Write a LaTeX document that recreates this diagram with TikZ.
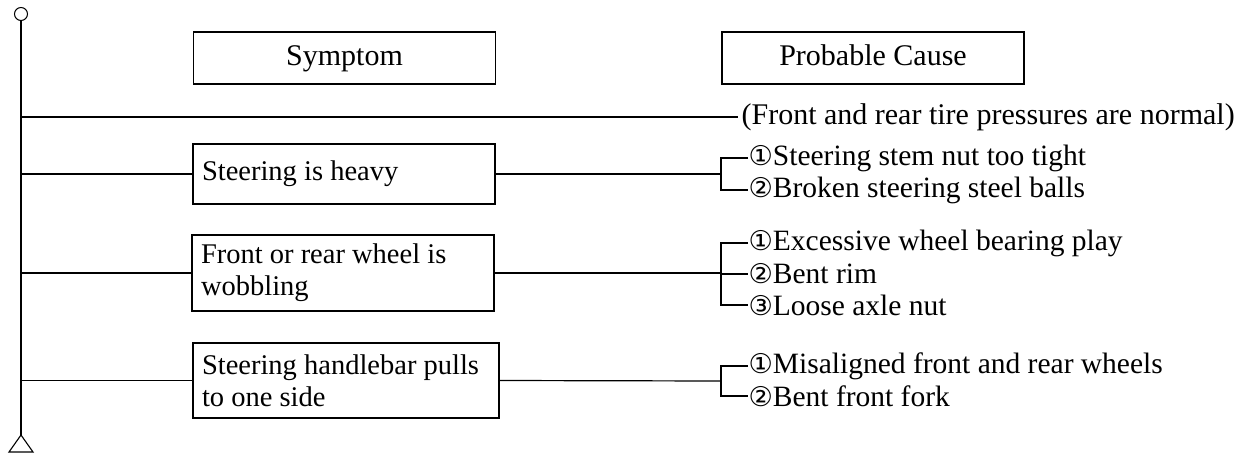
\documentclass[tikz,border=0pt]{standalone}
\usepackage{fontspec}
\setmainfont{Liberation Serif}
\newfontfamily\digfont{DejaVu Sans}[Scale=0.92]
\newcommand{\dig}[1]{{\digfont #1}}
\begin{document}
\begin{tikzpicture}[x=1pt,y=-1pt,
  line width=1.2pt,
  every node/.style={font=\fontsize{30}{32}\selectfont},
  hdr/.style={draw, minimum width=302pt, minimum height=52pt, inner sep=0pt, text height=20pt, text depth=6pt},
  sym/.style={draw, text width=284pt, inner xsep=9pt, inner ysep=0pt, align=flush left, minimum width=302pt, font=\fontsize{28.5}{32}\selectfont},
  item/.style={inner sep=0pt, anchor=west},
  cause/.style={item, font=\fontsize{29.5}{32}\selectfont},
  conn/.style={line width=1.2pt}]
\useasboundingbox (0,0) rectangle (1242,455);
% trunk
\node[draw, circle, minimum size=13pt, inner sep=0pt, line width=1pt] (top) at (21,14) {};
\coordinate (tri) at (21,435);
\draw[line width=1.1pt] (tri) -- (9,452) -- (33,452) -- cycle;
\draw[conn] (top.south) -- (tri);
% headers
\node[hdr] (hsym) at (344.5,58) {Symptom};
\node[hdr] (hpc) at (873,58) {Probable Cause};
% tire pressure note
\node[item] (note) at (741,117) {(Front and rear tire pressures are normal)};
\draw[conn] (note.west -| top) -- ([xshift=-3pt]note.west);
% symptom boxes
\node[sym, minimum height=60pt] (s1) at (344,174) {\mbox{Steering is heavy}};
\node[sym, minimum height=76pt] (s2) at (343,273) {\mbox{Front or rear wheel is}\\\mbox{wobbling}};
\node[sym, minimum height=75pt, text width=288pt, minimum width=306pt] (s3) at (346,380.5) {\mbox{Steering handlebar pulls}\\\mbox{to one side}};
\draw[conn] (s1.west -| top) -- (s1.west);
\draw[conn] (s2.west -| top) -- (s2.west);
\draw[conn] (s3.west -| top) -- (s3.west);
% causes
\node[cause] (c11) at (748,158) {\dig{①}Steering stem nut too tight};
\node[cause] (c12) at (748,190) {\dig{②}Broken steering steel balls};
\node[cause] (c21) at (748,243) {\dig{①}Excessive wheel bearing play};
\node[cause] (c22) at (748,274) {\dig{②}Bent rim};
\node[cause] (c23) at (748,305) {\dig{③}Loose axle nut};
\node[cause] (c31) at (748,366) {\dig{①}Misaligned front and rear wheels};
\node[cause] (c32) at (748,396) {\dig{②}Bent front fork};
% brackets
\coordinate (b1) at (721,174);
\coordinate (b2) at (721,273);
\coordinate (b3) at (721,381);
\draw[conn] (s1.east) -- (b1);
\draw[conn] (s2.east) -- (b2);
\draw[conn] (s3.east) -- (b3);
\draw[conn] (c11.west) -- (c11.west -| b1) -- (c12.west -| b1) -- (c12.west);
\draw[conn] (c21.west) -- (c21.west -| b2) -- (c23.west -| b2) -- (c23.west);
\draw[conn] (c22.west -| b2) -- (c22.west);
\draw[conn] (c31.west) -- (c31.west -| b3) -- (c32.west -| b3) -- (c32.west);
\end{tikzpicture}
\end{document}
